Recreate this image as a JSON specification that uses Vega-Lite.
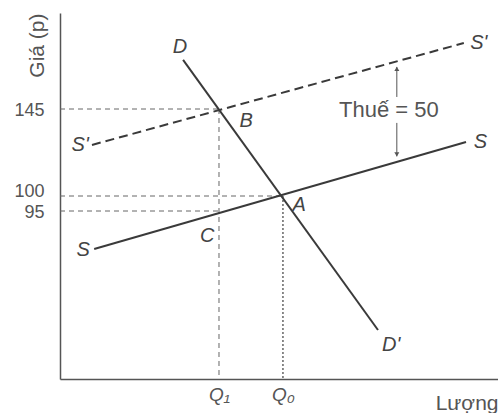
{
  "$schema": "https://vega.github.io/schema/vega-lite/v6.json",
  "width": 438,
  "height": 366,
  "autosize": {"type": "none"},
  "padding": {"left": 60, "top": 13, "right": 0, "bottom": 34},
  "background": "white",
  "config": {
    "view": {"stroke": null},
    "font": "Liberation Sans"
  },
  "datasets": {
    "solid": [
      {"curve": "D", "q": 28.1, "p": 173.1},
      {"curve": "D", "q": 72.6, "p": 27.7},
      {"curve": "S", "q": 7.8, "p": 73.5},
      {"curve": "S", "q": 92.7, "p": 127.9}
    ],
    "taxed": [
      {"curve": "S'", "q": 7.3, "p": 126.4},
      {"curve": "S'", "q": 92.2, "p": 182.8}
    ],
    "guides": [
      {"q": 0, "p": 145, "q2": 36.3, "p2": 145},
      {"q": 0, "p": 100, "q2": 50.9, "p2": 100},
      {"q": 0, "p": 95, "q2": 36.3, "p2": 95},
      {"q": 36.3, "p": 145, "q2": 36.3, "p2": 0}
    ],
    "dotted": [
      {"q": 50.9, "p": 100, "q2": 50.9, "p2": 0}
    ],
    "arrow": [
      {"q": 76.9, "p": 169.1, "q2": 76.9, "p2": 151.9},
      {"q": 76.9, "p": 137.8, "q2": 76.9, "p2": 120.5}
    ],
    "heads": [
      {"dir": "up", "q": 76.9, "p": 168.0},
      {"dir": "down", "q": 76.9, "p": 121.5}
    ],
    "labels": [
      {"t": "D", "q": 27.4, "p": 180.5},
      {"t": "D'", "q": 75.6, "p": 19.2},
      {"t": "S'", "q": 4.6, "p": 126.4},
      {"t": "S'", "q": 95.6, "p": 182.8},
      {"t": "S", "q": 96.0, "p": 127.9},
      {"t": "S", "q": 5.3, "p": 72.9},
      {"t": "B", "q": 42.5, "p": 138.8},
      {"t": "A", "q": 54.6, "p": 97.0},
      {"t": "C", "q": 33.6, "p": 80.9}
    ],
    "note": [
      {"t": "Thuế = 50", "q": 75.1, "p": 144.5}
    ]
  },
  "encoding": {
    "x": {
      "field": "q", "type": "quantitative",
      "scale": {"domain": [0, 100], "nice": false, "zero": false},
      "axis": {
        "values": [36.3, 50.9],
        "labelExpr": "datum.value < 40 ? 'Q₁' : 'Q₀'",
        "labelFontStyle": "italic",
        "labelFontSize": 19,
        "labelColor": "#555",
        "labelPadding": 6,
        "labelOverlap": false,
        "ticks": false,
        "grid": false,
        "domainColor": "#555",
        "domainWidth": 1.5,
        "title": "Lượng",
        "titleFontWeight": "normal",
        "titleFontSize": 21,
        "titleColor": "#555",
        "titleX": 438,
        "titleY": 30,
        "titleAlign": "right",
        "titleBaseline": "alphabetic"
      }
    },
    "y": {
      "field": "p", "type": "quantitative",
      "scale": {"domain": [0, 95, 100, 145, 200], "range": [366, 198, 183, 96, 0], "nice": false, "zero": false},
      "axis": {
        "values": [95, 100, 145],
        "labelFontSize": 18,
        "labelColor": "#555",
        "labelPadding": 16,
        "labelOverlap": false,
        "labelBound": false,
        "labelOffset": {"condition": {"test": "datum.value == 100", "value": -5}, "value": 1},
        "ticks": false,
        "grid": false,
        "domainColor": "#555",
        "domainWidth": 1.5,
        "title": "Giá (p)",
        "titleFontWeight": "normal",
        "titleFontSize": 21,
        "titleColor": "#555",
        "titleAngle": -90,
        "titleX": -23,
        "titleY": 0,
        "titleAlign": "right",
        "titleBaseline": "middle"
      }
    }
  },
  "layer": [
    {
      "data": {"name": "guides"},
      "mark": {"type": "rule", "color": "#666", "strokeWidth": 1, "strokeDash": [5, 4]},
      "encoding": {"x2": {"field": "q2"}, "y2": {"field": "p2"}}
    },
    {
      "data": {"name": "dotted"},
      "mark": {"type": "rule", "color": "#666", "strokeWidth": 1.5, "strokeDash": [2, 2]},
      "encoding": {"x2": {"field": "q2"}, "y2": {"field": "p2"}}
    },
    {
      "data": {"name": "solid"},
      "mark": {"type": "line", "color": "#3a3a3a", "strokeWidth": 2},
      "encoding": {"detail": {"field": "curve"}}
    },
    {
      "data": {"name": "taxed"},
      "mark": {"type": "line", "color": "#3a3a3a", "strokeWidth": 2, "strokeDash": [9, 5]},
      "encoding": {"detail": {"field": "curve"}}
    },
    {
      "data": {"name": "arrow"},
      "mark": {"type": "rule", "color": "#555", "strokeWidth": 1},
      "encoding": {"x2": {"field": "q2"}, "y2": {"field": "p2"}}
    },
    {
      "data": {"name": "heads"},
      "mark": {"type": "point", "filled": true, "color": "#555", "size": 25, "opacity": 1},
      "encoding": {
        "shape": {"field": "dir", "type": "nominal", "scale": {"domain": ["up", "down"], "range": ["triangle-up", "triangle-down"]}, "legend": null}
      }
    },
    {
      "data": {"name": "labels"},
      "mark": {"type": "text", "fontSize": 20, "fontStyle": "italic", "color": "#444", "align": "center", "baseline": "middle"},
      "encoding": {"text": {"field": "t"}}
    },
    {
      "data": {"name": "note"},
      "mark": {"type": "text", "fontSize": 22, "color": "#555", "align": "center", "baseline": "middle"},
      "encoding": {"text": {"field": "t"}}
    }
  ]
}
